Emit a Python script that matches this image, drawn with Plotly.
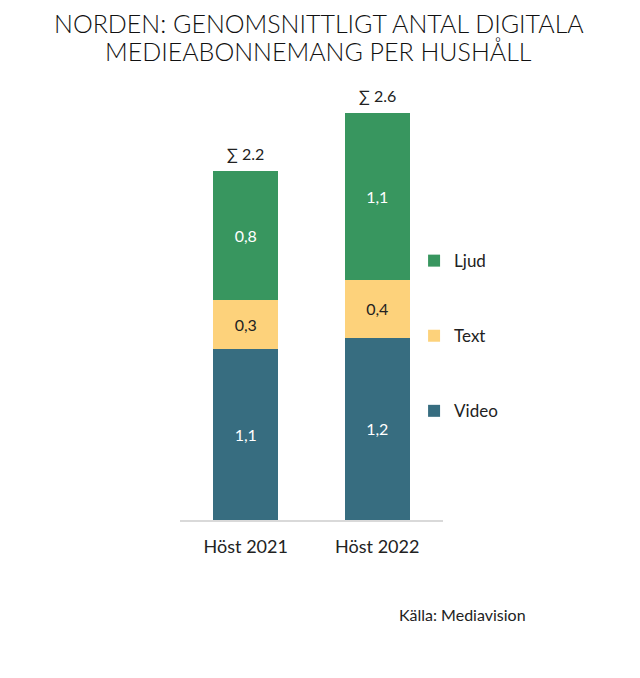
import plotly.graph_objects as go

# Data
categories = ["Höst 2021", "Höst 2022"]
video = [1.09, 1.16]
text = [0.31, 0.37]
ljud = [0.82, 1.06]
totals = [2.2, 2.6]

colors = {"Video": "#376D80", "Text": "#FDD27B", "Ljud": "#38965F"}
label_colors = {"Video": "white", "Text": "#222222", "Ljud": "white"}
legend_rank = {"Ljud": 1, "Text": 2, "Video": 3}
FONT = "Lato"

fig = go.Figure()
for name, vals in [("Video", video), ("Text", text), ("Ljud", ljud)]:
    fig.add_trace(go.Bar(
        x=categories,
        y=vals,
        name=name,
        legendgroup=name,
        legendrank=legend_rank[name],
        marker=dict(color=colors[name], line=dict(width=0)),
        texttemplate="%{y:.1f}",
        textposition="inside",
        insidetextanchor="middle",
        textangle=0,
        textfont=dict(family=FONT, size=16, color=label_colors[name]),
        hoverinfo="skip",
    ))

# sum labels above each bar
for cat, v, t, l, tot in zip(categories, video, text, ljud, totals):
    fig.add_annotation(
        x=cat, y=v + t + l, text="∑ %.1f" % tot,
        showarrow=False, yanchor="bottom", yshift=6,
        font=dict(family=FONT, size=16, color="#222222"),
    )

# title, two lines
title_font = dict(family=FONT, size=25, color="#111111", weight=300)
fig.add_annotation(x=0.528, y=1.13, xref="paper", yref="paper",
                   text="NORDEN: GENOMSNITTLIGT ANTAL DIGITALA",
                   showarrow=False, xanchor="center", yanchor="middle", font=title_font)
fig.add_annotation(x=0.528, y=1.066, xref="paper", yref="paper",
                   text="MEDIEABONNEMANG PER HUSHÅLL",
                   showarrow=False, xanchor="center", yanchor="middle", font=title_font)

fig.add_annotation(
    x=1.323, y=-0.214, xref="paper", yref="paper", text="Källa: Mediavision",
    showarrow=False, xanchor="right", yanchor="middle",
    font=dict(family=FONT, size=16, color="#222222"),
)

fig.update_layout(
    width=640,
    height=678,
    paper_bgcolor="white",
    plot_bgcolor="white",
    separators=", ",
    barmode="stack",
    bargap=0.505,
    margin=dict(l=172, r=205, t=72, b=166),
    showlegend=True,
    legend=dict(
        x=0.89, xanchor="left", y=0.418, yanchor="middle",
        traceorder="grouped",
        tracegroupgap=50,
        font=dict(family=FONT, size=17, color="#222222"),
        itemwidth=30,
        bgcolor="rgba(0,0,0,0)",
    ),
    xaxis=dict(
        showline=True, linecolor="#d9d9d9", linewidth=1.5,
        ticks="", showgrid=False, ticklabelstandoff=10,
        tickfont=dict(family=FONT, size=18, color="#222222"),
    ),
    yaxis=dict(
        range=[0, 2.8], visible=False, showgrid=False, zeroline=False,
    ),
)

fig.write_html("out.html")
